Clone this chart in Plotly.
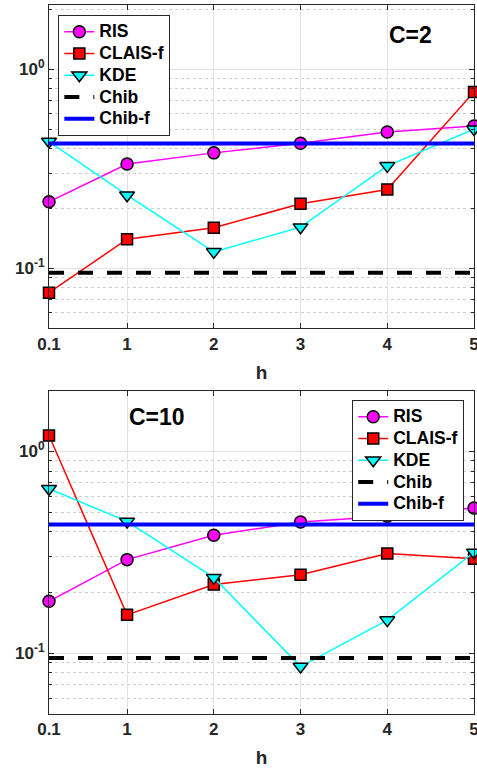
import math
import plotly.graph_objects as go

# ---------------- data ----------------
h = [0.1, 1, 2, 3, 4, 5]
h_labels = ["0.1", "1", "2", "3", "4", "5"]
y_tickvals = [0.1, 1]
y_ticktext = ["10<sup>-1</sup>", "10<sup>0</sup>"]

# C = 2 panel
ris_c2 = [0.216, 0.334, 0.380, 0.425, 0.484, 0.519]
clais_c2 = [0.0755, 0.140, 0.160, 0.211, 0.249, 0.769]
kde_c2 = [0.433, 0.233, 0.121, 0.161, 0.327, 0.500]
chib_c2 = 0.095
chibf_c2 = 0.423

# C = 10 panel
ris_c10 = [0.181, 0.291, 0.384, 0.447, 0.478, 0.524]
clais_c10 = [1.20, 0.155, 0.219, 0.245, 0.312, 0.294]
kde_c10 = [0.653, 0.450, 0.237, 0.0859, 0.146, 0.316]
chib_c10 = 0.0948
chibf_c10 = 0.435

series_names = ["RIS", "CLAIS-f", "KDE", "Chib", "Chib-f"]
panel_titles = ["C=2", "C=10"]

# ---------------- style ----------------
FONT = "Liberation Sans, Arial, sans-serif"
AX = "#262626"
GRID = "#e2e2e2"
MINOR_GRID = "#cfcfcf"
LEG_TXT = 17.5


def lname(s):
    return "<span style='font-size:%gpx'>%s</span>" % (LEG_TXT, s)


fig = go.Figure()


def add_panel(ris, clais, kde, chib, chibf, xa, ya, legend):
    common = dict(x=h, xaxis=xa, yaxis=ya, legend=legend, cliponaxis=False)
    fig.add_trace(go.Scatter(y=ris, name=lname(series_names[0]), mode="lines+markers",
                             line=dict(color="#ff00ff", width=1.5),
                             marker=dict(symbol="circle", size=12, color="#ff00ff",
                                         line=dict(color="black", width=1.5)),
                             **common))
    fig.add_trace(go.Scatter(y=clais, name=lname(series_names[1]), mode="lines+markers",
                             line=dict(color="#ff0000", width=1.5),
                             marker=dict(symbol="square", size=11, color="#ff0000",
                                         line=dict(color="black", width=1.5)),
                             **common))
    fig.add_trace(go.Scatter(y=kde, name=lname(series_names[2]), mode="lines+markers",
                             line=dict(color="#00ffff", width=1.5),
                             marker=dict(symbol="triangle-down", size=13, color="#00ffff",
                                         line=dict(color="black", width=1.5)),
                             **common))
    fig.add_trace(go.Scatter(y=[chib] * len(h), name=lname(series_names[3]), mode="lines",
                             line=dict(color="black", width=4, dash="15px,14px"),
                             **common))
    fig.add_trace(go.Scatter(y=[chibf] * len(h), name=lname(series_names[4]), mode="lines",
                             line=dict(color="#0000ff", width=4),
                             **common))


add_panel(ris_c2, clais_c2, kde_c2, chib_c2, chibf_c2, "x", "y", "legend")
add_panel(ris_c10, clais_c10, kde_c10, chib_c10, chibf_c10, "x2", "y2", "legend2")

xaxis_style = dict(
    range=[0.1, 5], tickmode="array", tickvals=h, ticktext=h_labels,
    showgrid=True, gridcolor=GRID, gridwidth=1,
    showline=True, linecolor=AX, linewidth=1, mirror="ticks",
    ticks="inside", ticklen=5, tickcolor=AX,
    tickfont=dict(family=FONT, size=17, color=AX, weight="bold"),
    ticklabelstandoff=0, ticklabeloverflow="allow",
    title=dict(text="h", font=dict(family=FONT, size=19, color=AX, weight="bold"),
               standoff=12),
    zeroline=False, automargin=False,
)

yaxis_common = dict(
    type="log", tickmode="array", tickvals=y_tickvals, ticktext=y_ticktext,
    showgrid=True, gridcolor=GRID, gridwidth=1,
    showline=True, linecolor=AX, linewidth=1, mirror="ticks",
    ticks="inside", ticklen=5, tickcolor=AX,
    tickfont=dict(family=FONT, size=17, color=AX, weight="bold"),
    minor=dict(dtick="D1", showgrid=True, gridcolor=MINOR_GRID, griddash="dot",
               gridwidth=1, ticks="inside", ticklen=3, tickcolor=AX),
    zeroline=False, automargin=False,
)

legend_common = dict(yanchor="top",
                     bgcolor="white", bordercolor=AX, borderwidth=1,
                     font=dict(family=FONT, size=14.4, color="black", weight="bold"),
                     tracegroupgap=0)

fig.update_layout(
    width=477, height=769,
    margin=dict(l=49, r=3, t=5, b=55, autoexpand=False),
    paper_bgcolor="white", plot_bgcolor="white",
    xaxis=dict(domain=[0, 1], anchor="y", **xaxis_style),
    yaxis=dict(domain=[0.544, 1], anchor="x",
               range=[math.log10(0.05), math.log10(2.1)], **yaxis_common),
    xaxis2=dict(domain=[0, 1], anchor="y2", **xaxis_style),
    yaxis2=dict(domain=[0, 0.456], anchor="x2",
                range=[math.log10(0.05), math.log10(2.0)], **yaxis_common),
    legend=dict(x=0.022, y=0.986, xanchor="left", **legend_common),
    legend2=dict(x=0.977, y=0.443, xanchor="right", **legend_common),
    annotations=[
        dict(text=panel_titles[0], xref="x domain", yref="y domain", x=0.851, y=0.907,
             xanchor="center", yanchor="middle", showarrow=False,
             font=dict(family=FONT, size=23, color="black", weight="bold")),
        dict(text=panel_titles[1], xref="x2 domain", yref="y2 domain", x=0.254, y=0.92,
             xanchor="center", yanchor="middle", showarrow=False,
             font=dict(family=FONT, size=23, color="black", weight="bold")),
    ],
    showlegend=True,
)

fig.write_html("out.html",
               config={"displayModeBar": False},
               post_script="document.body.style.margin='0';document.body.style.overflow='hidden';")
